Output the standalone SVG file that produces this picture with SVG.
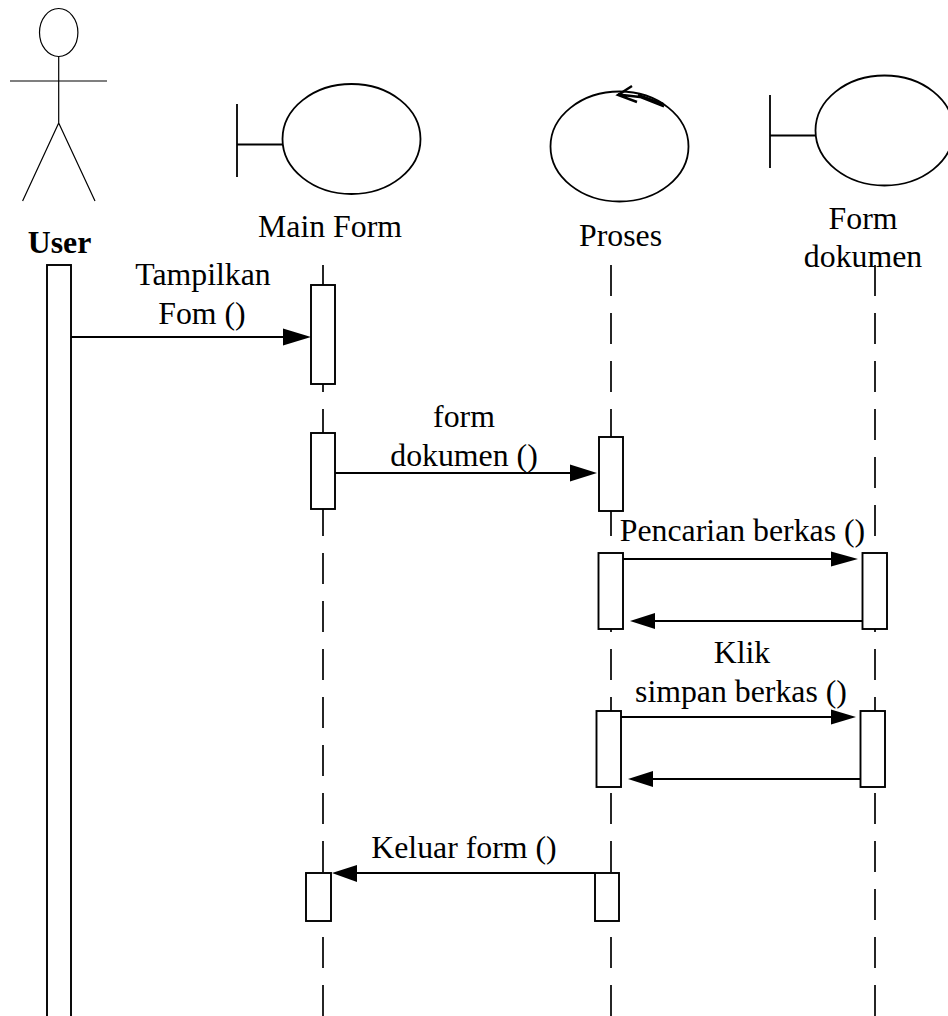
<svg xmlns="http://www.w3.org/2000/svg" width="948" height="1016" viewBox="0 0 948 1016">
<style>
.s{fill:none;stroke:#000;stroke-width:1.8}
.a{fill:none;stroke:#000;stroke-width:1.2}
.b{fill:#fff;stroke:#000;stroke-width:1.9}
.l{fill:none;stroke:#000;stroke-width:1.7;stroke-dasharray:31 17}
.m{fill:none;stroke:#000;stroke-width:1.9}
.h{fill:#000;stroke:none}
text{font-family:"Liberation Serif","Times New Roman",serif;font-size:31.8px;fill:#000;text-anchor:middle}
</style>
<rect width="948" height="1016" fill="#fff"/>
<g id="lifelines">
<path class="l" d="M323 265V1016"/>
<path class="l" d="M611 265V1016"/>
<path class="l" d="M875 265V1016"/>
</g>
<g id="user">
<ellipse class="a" cx="58.700" cy="32.500" rx="19.200" ry="24"/>
<path class="a" d="M58.700 56.500V123M10 81H107M58.700 123L22.600 201M58.700 123L95 201"/>
<text x="59.500" y="253" style="font-weight:700">User</text>
<rect class="b" x="47" y="265" width="24" height="760"/>
</g>
<g id="main-form">
<path class="s" d="M237 104V177M237 144.500H282"/>
<ellipse class="s" cx="351.500" cy="139" rx="69" ry="55"/>
<text x="330" y="237">Main Form</text>
<rect class="b" x="311" y="285" width="24" height="99"/>
<rect class="b" x="311" y="433" width="24" height="76"/>
<rect class="b" x="306" y="873" width="25" height="48"/>
</g>
<g id="proses">
<ellipse class="s" cx="619.500" cy="146.500" rx="69" ry="55"/>
<path class="m" style="stroke-width:2.400" d="M664 106.500L640 97L618 94.500M663 104L638 95M632 86L618 95L637 102"/>
<text x="620.500" y="246">Proses</text>
<rect class="b" x="599" y="437" width="24" height="74"/>
<rect class="b" x="598.500" y="553" width="24.500" height="76"/>
<rect class="b" x="596.500" y="711" width="24.500" height="76"/>
<rect class="b" x="595" y="873" width="24" height="48"/>
</g>
<g id="form-dokumen">
<path class="s" d="M770 95V168M770 135.500H815"/>
<ellipse class="s" cx="884.500" cy="130.500" rx="69" ry="55"/>
<text x="863" y="229">Form</text>
<text x="863" y="267">dokumen</text>
<rect class="b" x="862.500" y="553" width="24.500" height="76"/>
<rect class="b" x="860.500" y="711" width="24.500" height="76"/>
</g>
<g id="connectors">
<path class="m" d="M71 337H285"/><polygon class="h" points="311,337 283,328.500 283,345.500"/>
<path class="m" d="M335 473H572"/><polygon class="h" points="597,473 570,464.500 570,481.500"/>
<path class="m" d="M623 559H833"/><polygon class="h" points="858,559 831,551.500 831,566.500"/>
<path class="m" d="M862 621H653"/><polygon class="h" points="630,621 655,613 655,629"/>
<path class="m" d="M621 717H833"/><polygon class="h" points="856,717 831,709.500 831,724.500"/>
<path class="m" d="M860 779H651"/><polygon class="h" points="628,779 653,771 653,787"/>
<path class="m" d="M595 873H355"/><polygon class="h" points="332,873 357,865 357,882"/>
</g>
<g id="labels">
<text x="203" y="285">Tampilkan</text>
<text x="202" y="324">Fom ()</text>
<text x="464" y="427">form</text>
<text x="464" y="466">dokumen ()</text>
<text x="742.500" y="541">Pencarian berkas ()</text>
<text x="742" y="663">Klik</text>
<text x="741" y="702">simpan berkas ()</text>
<text x="464" y="858">Keluar form ()</text>
</g>
</svg>
